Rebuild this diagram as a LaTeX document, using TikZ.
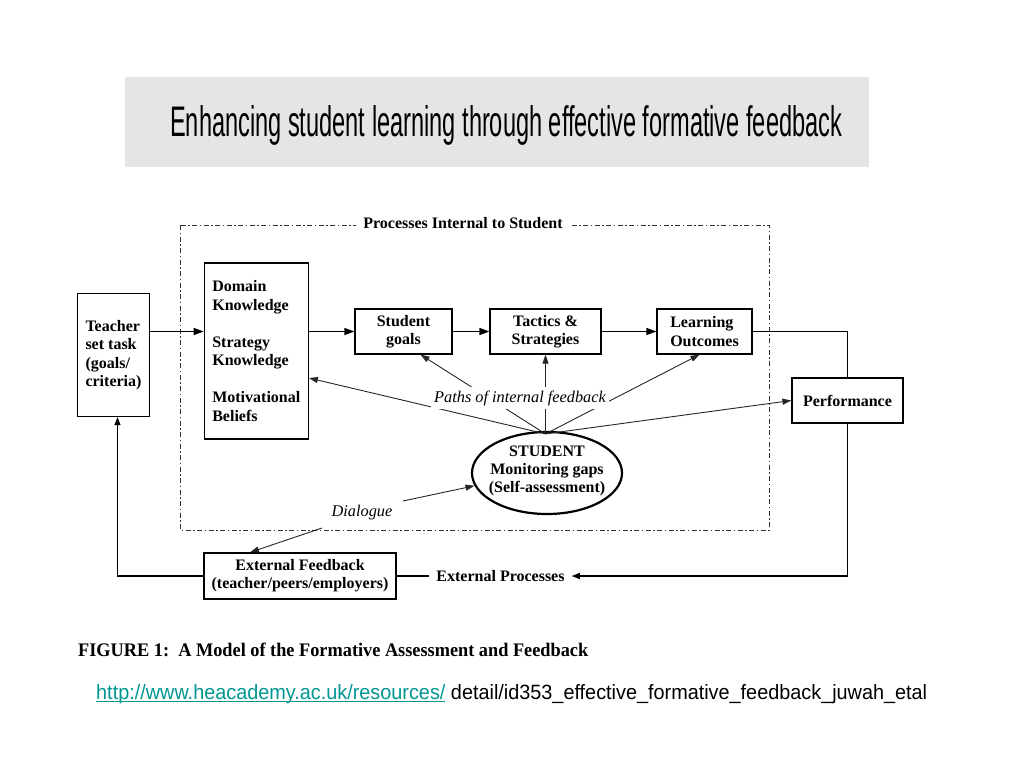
\documentclass[tikz,border=0pt]{standalone}
\usepackage{fontspec}
\setmainfont{Liberation Serif}
\setsansfont{Liberation Sans}
\usetikzlibrary{shapes.geometric,arrows.meta,calc}
\definecolor{bandgray}{RGB}{229,229,232}
\definecolor{urlteal}{RGB}{0,150,145}
\begin{document}
\begin{tikzpicture}[x=1pt,y=-1pt,
  every node/.style={inner sep=0pt},
  dfont/.style={font=\fontsize{16}{18.3}\selectfont\bfseries},
  ifont/.style={font=\fontsize{16.3}{18}\selectfont\itshape},
  box/.style={draw, line width=1.2pt, dfont, align=center},
  arr/.style={line width=1.2pt, -{Triangle[length=10pt,width=7pt]}},
  smallarr/.style={line width=1.2pt, -{Triangle[length=8pt,width=6pt]}},
  plainline/.style={line width=1.2pt},
  fbarr/.style={line width=0.9pt, draw=black!85, -{Triangle[length=9pt,width=6pt]}},
  dashframe/.style={draw=black!80, line width=1pt, dash pattern=on 5pt off 2.5pt on 1.5pt off 2.5pt}
]
\useasboundingbox (0,0) rectangle (1024,768);

% title band
\node[fill=bandgray, minimum width=744, minimum height=90] (band) at (497,122) {};
\node[anchor=base west] (title) at (170,136) {\resizebox{672pt}{31pt}{\sffamily Enhancing student learning through effective formative feedback}};

% internal frame
\draw[dashframe] (180,225) rectangle (769,530);
\node[dfont, fill=white, inner xsep=7pt, inner ysep=2pt] (ftitle) at (463,223) {Processes Internal to Student};

% boxes
\node[box, minimum width=72, minimum height=123, align=left] (teacher) at (113.5,355) {Teacher\\set task\\(goals/\\criteria)};
\node[box, minimum width=104, minimum height=176, align=left] (domain) at (256.3,351) {Domain\\Knowledge\\[19pt]Strategy\\Knowledge\\[19pt]Motivational\\Beliefs};
\node[box, minimum width=97, minimum height=45] (goals) at (403.5,331.5) {Student\\goals};
\node[box, minimum width=111, minimum height=45] (tactics) at (545.5,331.5) {Tactics \&\\Strategies};
\node[box, minimum width=95, minimum height=45, align=left] (outcomes) at (704.5,331.5) {Learning\\Outcomes};
\node[box, minimum width=111, minimum height=45] (perf) at (847.5,400.5) {Performance};
\node[box, minimum width=192, minimum height=46] (extfb) at (300,576) {External Feedback\\(teacher/peers/employers)};
\node[dfont, inner xsep=7pt, inner ysep=2pt] (extproc) at (500.5,576) {External Processes};

% student ellipse
\node[draw, ellipse, line width=2.2pt, minimum width=150, minimum height=82] (student) at (547,473) {};
\node[dfont, align=center] (studtxt) at (547,471) {STUDENT\\Monitoring gaps\\(Self-assessment)};

% main flow
\draw[arr] (teacher.east |- goals.west) -- (domain.west |- goals.west);
\draw[arr] (domain.east |- goals.west) -- (goals.west);
\draw[arr] (goals) -- (tactics);
\draw[arr] (tactics) -- (outcomes);
\draw[plainline] (outcomes.east) -- (perf.north |- outcomes.east) -- (perf.north);
\draw[smallarr] (perf.south) -- (perf.south |- extproc.east) -- (extproc.east);
\draw[plainline] (extfb.east) -- (extproc.west);
\coordinate (tb) at ($(teacher.south)+(4,0)$);
\draw[smallarr] (extfb.west) -- (tb |- extfb.west) -- (tb);

% internal feedback paths
\coordinate (fb) at ($(tactics.south |- student.north)+(0,3)$);
\draw[fbarr] (fb) -- ($(domain.east)+(0,27)$);
\draw[fbarr] (fb) -- ($(goals.south)+(17,0)$);
\draw[fbarr] (fb) -- (tactics.south);
\draw[fbarr] (fb) -- ($(outcomes.south)+(-5,0)$);
\draw[fbarr] (fb) -- (perf.west);
\node[ifont, fill=white, inner xsep=3pt, inner ysep=4pt] (paths) at (520,398) {Paths of internal feedback};

% dialogue
\node[ifont] (dialogue) at (362,513) {Dialogue};
\coordinate (d1) at (403,501);
\coordinate (d2) at (322,528);
\draw[fbarr] (d1) -- (student.190);
\draw[fbarr] (d2) -- ($(extfb.north)+(-50,0)$);

% caption and link
\node[anchor=base west] (caption) at (78,656) {\resizebox{510pt}{13.5pt}{\bfseries FIGURE 1:\ \ A Model of the Formative Assessment and Feedback}};
\node[anchor=base west] (url) at (96,699) {\resizebox{831pt}{15pt}{\sffamily\textcolor{urlteal}{\underline{\vphantom{h}\smash{http://www.heacademy.ac.uk/resources/}}} detail/id353\_effective\_formative\_feedback\_juwah\_etal}};
\end{tikzpicture}
\end{document}
